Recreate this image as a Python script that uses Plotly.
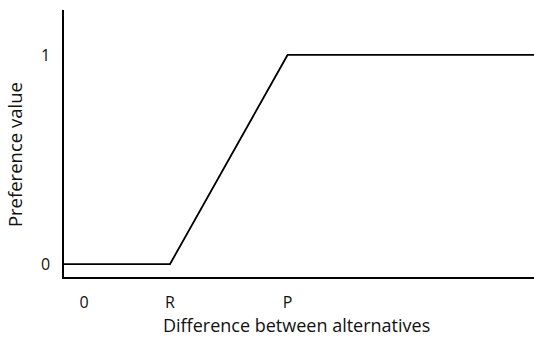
import plotly.graph_objects as go

# Linear preference function: zero up to threshold R, rising to 1 at threshold P
R = 3.0
P = 7.1
x_vals = [-0.7, R, P, 15.7]
y_vals = [0, 0, 1, 1]

x_tick_vals = [0, R, P]
x_tick_text = ["0", "R", "P"]
y_tick_vals = [0, 1]
y_tick_text = ["0", "1"]

x_title = "Difference between alternatives"
y_title = "Preference value"

FONT = "Open Sans"

fig = go.Figure()
fig.add_trace(go.Scatter(
    x=x_vals, y=y_vals, mode="lines",
    line=dict(color="black", width=1.8),
    showlegend=False, hoverinfo="skip", cliponaxis=False,
))

fig.update_layout(
    width=534, height=338,
    margin=dict(l=64, r=0, t=10, b=61),
    paper_bgcolor="white", plot_bgcolor="white",
    font=dict(family=FONT, size=16, color="#111111"),
    xaxis=dict(
        range=[-0.7, 15.7], showgrid=False, zeroline=False,
        showline=True, linecolor="black", linewidth=1.5,
        tickvals=x_tick_vals, ticktext=x_tick_text, ticks="",
        ticklabelstandoff=10,
        automargin=False,
    ),
    yaxis=dict(
        range=[-0.062, 1.215], showgrid=False, zeroline=False,
        showline=True, linecolor="black", linewidth=1.5,
        tickvals=y_tick_vals, ticktext=y_tick_text, ticks="",
        ticklabelstandoff=9,
        automargin=False,
    ),
    annotations=[
        dict(text=x_title, xref="paper", yref="paper",
             x=0.4947, y=-0.2285, xanchor="center", yanchor="bottom",
             borderpad=0, showarrow=False, font=dict(size=18)),
        dict(text=y_title, xref="paper", yref="paper",
             x=-0.104, y=0.457, xanchor="center", yanchor="middle",
             textangle=-90, showarrow=False, font=dict(size=18.5)),
    ],
)

fig.write_html("out.html")
